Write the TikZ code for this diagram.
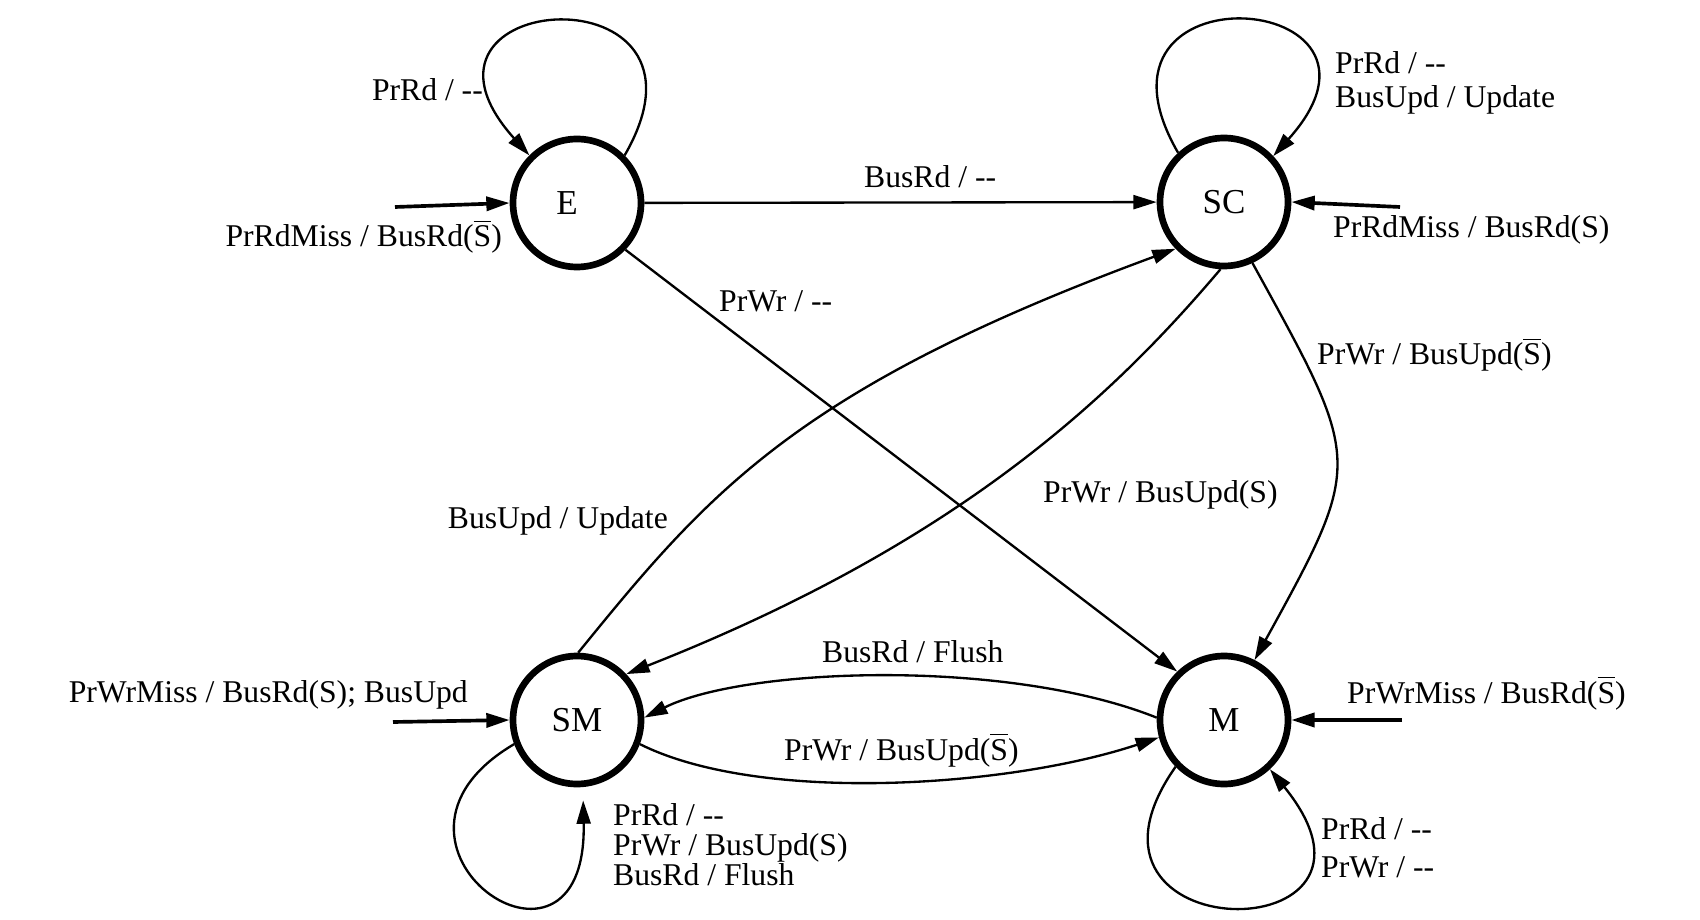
\documentclass[tikz,border=0pt]{standalone}
\usepackage{fontspec}
\setmainfont{Liberation Serif}
\usepackage{tikz}
\usetikzlibrary{arrows.meta}
\tikzset{every picture/.style={line width=0.7pt}}
\tikzset{
  cstate/.style={draw, circle, line width=2pt, minimum size=38.4pt, inner sep=0pt, font=\fontsize{10.5}{12}\selectfont},
  trans/.style={-{Triangle[length=7pt,width=4.2pt]}, line width=0.7pt},
  entry/.style={-{Triangle[length=7pt,width=4.2pt]}, line width=1.1pt},
  lbl/.style={inner sep=0pt, font=\fontsize{9.5}{10.2}\selectfont, align=left}
}
\newcommand{\Sbar}{$\overline{\mbox{S}}$}

\begin{document}
\begin{tikzpicture}[x=0.3pt,y=0.3pt,yscale=-1,xscale=1]

\useasboundingbox (0,0) rectangle (1700,920);

%States
\node[cstate] (E) at (577,203) {\hspace*{-6pt}E};
\node[cstate] (SC) at (1224,202) {SC};
\node[cstate] (SM) at (577,720) {SM};
\node[cstate] (M) at (1224,720) {M};

%Entry points
\coordinate (inE) at (395,207);
\coordinate (inSC) at (1400,207);
\coordinate (inSM) at (393,722);
\coordinate (inM) at (1402,720);

%Entry arrows
\draw[entry] (inE) -- (E.west);
\draw[entry] (inSC) -- (SC.east);
\draw[entry] (inSM) -- (SM.west);
\draw[entry] (inM) -- (M.east);

%Self loops
\draw[trans] (E.45) .. controls +(110,-190) and +(-150,-167) .. (E.135);
\draw[trans] (SC.133) .. controls +(-110,-190) and +(150,-167) .. (SC.43);
\draw[trans, shorten >=4pt] (SM.201) .. controls +(-170,100) and +(5,225) .. (SM.-85);
\draw[trans] (M.224) .. controls +(-130,185) and +(150,185) .. (M.-47);

%Straight Lines
\draw[trans] (E) -- (SC);
\draw[trans] (E.-44) -- (M.134);

%Curves
\draw[trans] (SC.-65) .. controls +(110,200) and +(110,-200) .. (M.63);
\draw[trans] (SC.-93) .. controls +(-110,130) and +(330,-130) .. (SM.43);
\draw[trans] (SM.89) .. controls +(130,-160) and +(-380,140) .. (SC.224);
\draw[trans] (M.178) .. controls +(-150,-60) and +(100,-50) .. (SM.2);
\draw[trans] (SM.-21) .. controls +(120,60) and +(-150,50) .. (M.195);

% Text Node
\node[lbl, anchor=base east] (lEloop) at (484,101) {PrRd / -{}-};
% Text Node
\node[lbl, anchor=base east] (lEin) at (503,247) {PrRdMiss / BusRd(\Sbar)};
% Text Node
\node[lbl, anchor=base west] (lESC) at (863,188) {BusRd / -{}-};
% Text Node
\node[lbl, anchor=base west] (lEM) at (718,312) {PrWr / -{}-};
% Text Node
\node[lbl, anchor=north west] (lSCloop) at (1334,50) {PrRd / -{}-\\BusUpd / Update};
% Text Node
\node[lbl, anchor=base west] (lSCin) at (1332,238) {PrRdMiss / BusRd(S)};
% Text Node
\node[lbl, anchor=base west] (lSCM) at (1316,365) {PrWr / BusUpd(\Sbar)};
% Text Node
\node[lbl, anchor=base west] (lSCSM) at (1042,502) {PrWr / BusUpd(S)};
% Text Node
\node[lbl, anchor=base east] (lSMSC) at (669,528) {BusUpd / Update};
% Text Node
\node[lbl, anchor=base west] (lMSM) at (821,662) {BusRd / Flush};
% Text Node
\node[lbl, anchor=base west] (lSMM) at (783,760) {PrWr / BusUpd(\Sbar)};
% Text Node
\node[lbl, anchor=base east] (lSMin) at (469,702) {PrWrMiss / BusRd(S); BusUpd};
% Text Node
\node[lbl, anchor=base west] (lMin) at (1346,703) {PrWrMiss / BusRd(\Sbar)};
% Text Node
\node[lbl, anchor=north west] (lSMloop) at (612,802) {PrRd / -{}-\\[-1.2pt]PrWr / BusUpd(S)\\[-1.2pt]BusRd / Flush};
% Text Node
\node[lbl, anchor=north west] (lMloop) at (1320,816) {PrRd / -{}-\\[1.2pt]PrWr / -{}-};

\end{tikzpicture}
\end{document}
